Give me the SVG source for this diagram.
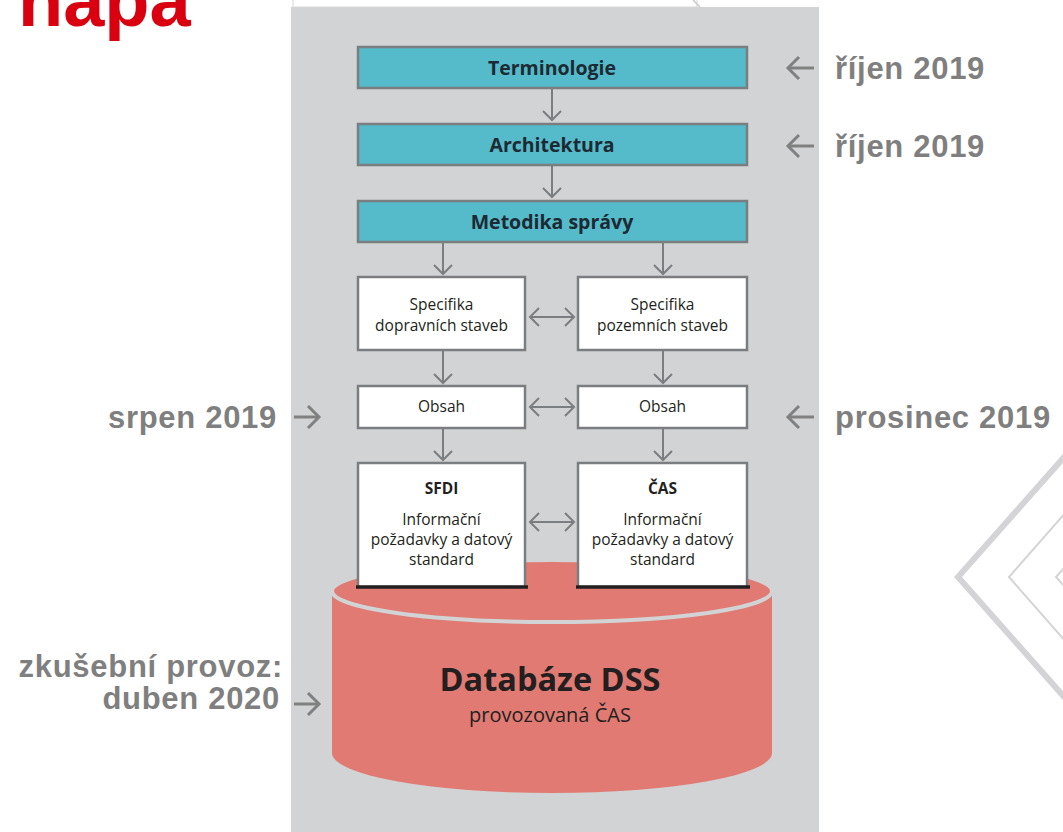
<svg xmlns="http://www.w3.org/2000/svg" width="1063" height="832" viewBox="0 0 1063 832">
<style>
.tbox{fill:#55bbca;stroke:#7b7e80;stroke-width:2.5}
.wbox{fill:#ffffff;stroke:#7b7e80;stroke-width:2.5}
.ttl{font-family:"Open Sans",sans-serif;font-weight:bold;font-size:19.5px;fill:#1d2a33;text-anchor:middle}
.bt{font-family:"Open Sans",sans-serif;font-size:15.5px;fill:#231f20;text-anchor:middle}
.btb{font-family:"Open Sans",sans-serif;font-weight:bold;font-size:15.5px;fill:#231f20;text-anchor:middle}
.lbl{font-family:"Liberation Sans",Arial,sans-serif;font-weight:bold;font-size:31px;fill:#7f7f7f;letter-spacing:0.7px}
.conn{stroke:#7b7e80;stroke-width:2;fill:none}
.side{stroke:#808080;stroke-width:3;fill:none}
</style>
<defs>
<marker id="ah" viewBox="0 0 10 18" refX="9" refY="9" markerWidth="10" markerHeight="18" markerUnits="userSpaceOnUse" orient="auto-start-reverse" overflow="visible">
<path d="M0,0 L9,9 L0,18" fill="none" stroke="#7b7e80" stroke-width="2"/>
</marker>
<marker id="ah2" viewBox="0 0 12 22" refX="11" refY="11" markerWidth="12" markerHeight="22" markerUnits="userSpaceOnUse" orient="auto" overflow="visible">
<path d="M0,0 L11,11 L0,22" fill="none" stroke="#808080" stroke-width="3"/>
</marker>
</defs>
<rect width="1063" height="832" fill="#ffffff"/>
<g id="deco" fill="none" stroke="#d4d4d6">
<polyline points="1066,455 958,577 1066,699" stroke-width="6"/>
<polyline points="1066,512 1009,577 1066,642" stroke-width="2"/>
<polyline points="1066,566 1056,577 1066,588" stroke-width="2"/>
</g>
<text x="18" y="26" font-family="Liberation Sans,Arial,sans-serif" font-weight="bold" font-size="74" fill="#d90010">napa</text>
<rect x="291" y="7" width="528" height="825" fill="#d1d3d4"/>
<rect x="293" y="-2" width="404" height="9" fill="#ffffff" stroke="#d8d8d8" stroke-width="1"/>
<line x1="693" y1="0" x2="700" y2="7" stroke="#c8c8c8" stroke-width="1.5"/>
<g id="db">
<path d="M332,592 L332,753 A220,40 0 0 0 772,753 L772,592 Z" fill="#e07a73"/>
<ellipse cx="552" cy="591" rx="220" ry="31" fill="#e07a73" stroke="#d1d3d4" stroke-width="4"/>
<text x="550" y="691" font-family="Open Sans,sans-serif" font-weight="bold" font-size="32.5" fill="#231f20" text-anchor="middle">Databáze DSS</text>
<text x="550" y="722" font-family="Open Sans,sans-serif" font-size="20" fill="#231f20" text-anchor="middle">provozovaná ČAS</text>
</g>
<g id="terminologie">
<rect class="tbox" x="358" y="47" width="389" height="41"/>
<text class="ttl" x="552" y="75">Terminologie</text>
</g>
<g id="architektura">
<rect class="tbox" x="358" y="124" width="389" height="41"/>
<text class="ttl" x="552" y="152">Architektura</text>
</g>
<g id="metodika">
<rect class="tbox" x="358" y="201" width="389" height="41"/>
<text class="ttl" x="552" y="229">Metodika správy</text>
</g>
<g id="spec-doprava">
<rect class="wbox" x="358" y="277" width="167" height="73"/>
<text class="bt" x="441.5" y="310">Specifika</text>
<text class="bt" x="441.5" y="331">dopravních staveb</text>
</g>
<g id="spec-pozem">
<rect class="wbox" x="578" y="277" width="169" height="73"/>
<text class="bt" x="662.5" y="310">Specifika</text>
<text class="bt" x="662.5" y="331">pozemních staveb</text>
</g>
<g id="obsah-l">
<rect class="wbox" x="358" y="386" width="167" height="42"/>
<text class="bt" x="441.5" y="412">Obsah</text>
</g>
<g id="obsah-r">
<rect class="wbox" x="578" y="386" width="169" height="42"/>
<text class="bt" x="662.5" y="412">Obsah</text>
</g>
<g id="sfdi">
<rect class="wbox" x="358" y="463" width="167" height="124"/>
<line x1="356" y1="587" x2="528" y2="587" stroke="#231f20" stroke-width="3.5"/>
<text class="btb" x="441.5" y="494">SFDI</text>
<text class="bt" x="441.5" y="525">Informační</text>
<text class="bt" x="441.5" y="545">požadavky a datový</text>
<text class="bt" x="441.5" y="565">standard</text>
</g>
<g id="cas">
<rect class="wbox" x="578" y="463" width="169" height="124"/>
<line x1="576" y1="587" x2="750" y2="587" stroke="#231f20" stroke-width="3.5"/>
<text class="btb" x="662.5" y="494">ČAS</text>
<text class="bt" x="662.5" y="525">Informační</text>
<text class="bt" x="662.5" y="545">požadavky a datový</text>
<text class="bt" x="662.5" y="565">standard</text>
</g>
<g id="connectors">
<line class="conn" x1="552" y1="89" x2="552" y2="120" marker-end="url(#ah)"/>
<line class="conn" x1="552" y1="166" x2="552" y2="197" marker-end="url(#ah)"/>
<line class="conn" x1="443" y1="243" x2="443" y2="274" marker-end="url(#ah)"/>
<line class="conn" x1="663" y1="243" x2="663" y2="274" marker-end="url(#ah)"/>
<line class="conn" x1="443" y1="351" x2="443" y2="383" marker-end="url(#ah)"/>
<line class="conn" x1="663" y1="351" x2="663" y2="383" marker-end="url(#ah)"/>
<line class="conn" x1="443" y1="429" x2="443" y2="460" marker-end="url(#ah)"/>
<line class="conn" x1="663" y1="429" x2="663" y2="460" marker-end="url(#ah)"/>
<line class="conn" x1="530" y1="317" x2="574" y2="317" marker-start="url(#ah)" marker-end="url(#ah)"/>
<line class="conn" x1="530" y1="407" x2="574" y2="407" marker-start="url(#ah)" marker-end="url(#ah)"/>
<line class="conn" x1="530" y1="522" x2="574" y2="522" marker-start="url(#ah)" marker-end="url(#ah)"/>
</g>
<g id="dates">
<line class="side" x1="814" y1="68" x2="788" y2="68" marker-end="url(#ah2)"/>
<text class="lbl" x="835" y="79">říjen 2019</text>
<line class="side" x1="814" y1="146" x2="788" y2="146" marker-end="url(#ah2)"/>
<text class="lbl" x="835" y="157">říjen 2019</text>
<line class="side" x1="814" y1="417" x2="788" y2="417" marker-end="url(#ah2)"/>
<text class="lbl" x="835" y="428">prosinec 2019</text>
<text class="lbl" x="277" y="428" text-anchor="end">srpen 2019</text>
<line class="side" x1="294" y1="417" x2="319" y2="417" marker-end="url(#ah2)"/>
<text class="lbl" x="283" y="677" text-anchor="end">zkušební provoz:</text>
<text class="lbl" x="280" y="709" text-anchor="end">duben 2020</text>
<line class="side" x1="294" y1="704" x2="319" y2="704" marker-end="url(#ah2)"/>
</g>
</svg>
